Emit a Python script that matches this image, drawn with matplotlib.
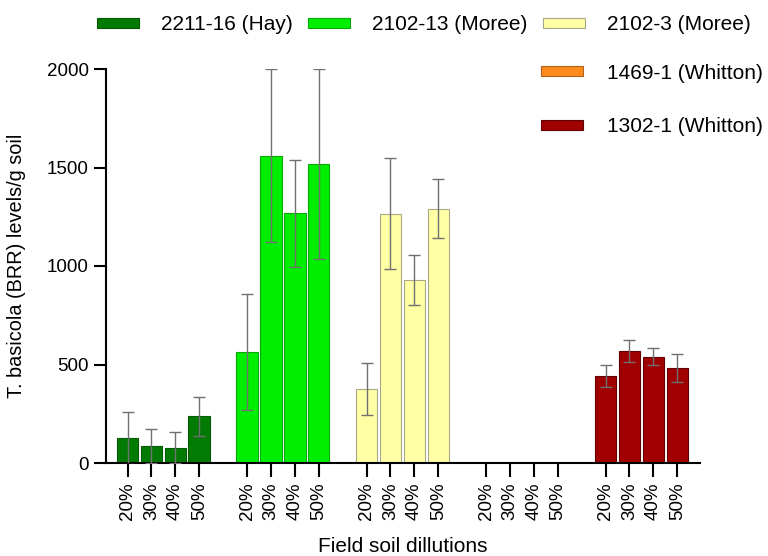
import matplotlib
matplotlib.use("Agg")
import matplotlib.pyplot as plt
from matplotlib.patches import Patch
import numpy as np

plt.rcParams['font.family'] = ['Liberation Sans', 'DejaVu Sans']

dilutions = ["20%", "30%", "40%", "50%"]
isolates = ["2211-16 (Hay)", "2102-13 (Moree)", "2102-3 (Moree)",
            "1469-1 (Whitton)", "1302-1 (Whitton)"]
colors = ["#037a03", "#00ee00", "#ffffa6", "#ff8c1a", "#a00000"]
edges = ["#035a03", "#08a808", "#a8a888", "#b06020", "#600000"]

means = [
    [125, 85, 78, 237],
    [565, 1560, 1268, 1520],
    [375, 1266, 928, 1290],
    [0, 0, 0, 0],
    [442, 568, 540, 482],
]
errs = [
    [132, 87, 80, 100],
    [295, 440, 272, 482],
    [133, 282, 127, 150],
    [0, 0, 0, 0],
    [58, 56, 42, 72],
]

W, H = 768, 556
fig = plt.figure(figsize=(W / 100, H / 100), dpi=100)
ax = fig.add_axes([106 / W, 1 - 463 / H, (700 - 106) / W, (463 - 69) / H])

positions = []
labels = []
for g in range(len(isolates)):
    x = np.arange(len(dilutions)) + g * 5
    positions.extend(x)
    labels.extend(dilutions)
    if max(means[g]) > 0:
        ax.bar(x, means[g], width=0.9, color=colors[g], edgecolor=edges[g],
               linewidth=0.8, zorder=2)
        ax.errorbar(x, means[g], yerr=errs[g], fmt="none", ecolor="#707070",
                    elinewidth=1.0, capsize=4, capthick=1.0, zorder=3)

ax.set_xlim(-0.9, 23.95)
ax.set_ylim(0, 2000)
ax.set_yticks([0, 500, 1000, 1500, 2000])
ax.set_xticks(positions)
ax.set_xticklabels(labels, rotation=90, fontsize=13.5)
ax.tick_params(axis="y", labelsize=13.5, length=9, width=1.5)
ax.tick_params(axis="x", length=10, width=1.5, pad=4)
for s in ["top", "right"]:
    ax.spines[s].set_visible(False)
for s in ["left", "bottom"]:
    ax.spines[s].set_linewidth(1.5)

ax.set_ylabel("T. basicola (BRR) levels/g soil", fontsize=14.3)
ax.yaxis.set_label_coords((26 - 106) / (700 - 106), 0.5)
fig.text(403 / W, 1 - 547 / H, "Field soil dillutions",
         fontsize=15, ha="center", va="center")

handles = [Patch(facecolor=c, edgecolor=e, linewidth=0.8)
           for c, e in zip(colors, edges)]
fig.legend(handles[:3], isolates[:3], loc="center left", ncol=3,
           bbox_to_anchor=(97 / W, 1 - 25 / H), frameon=False, borderpad=0,
           borderaxespad=0, fontsize=15, handlelength=2.0, handleheight=0.38,
           handletextpad=1.05, columnspacing=0.77)
fig.legend(handles[3:], isolates[3:], loc="center left",
           bbox_to_anchor=(541 / W, 1 - 100 / H), frameon=False, borderpad=0,
           borderaxespad=0, fontsize=15, handlelength=2.0, handleheight=0.38,
           handletextpad=1.15, labelspacing=1.65)

fig.savefig("out.png", dpi=100)
